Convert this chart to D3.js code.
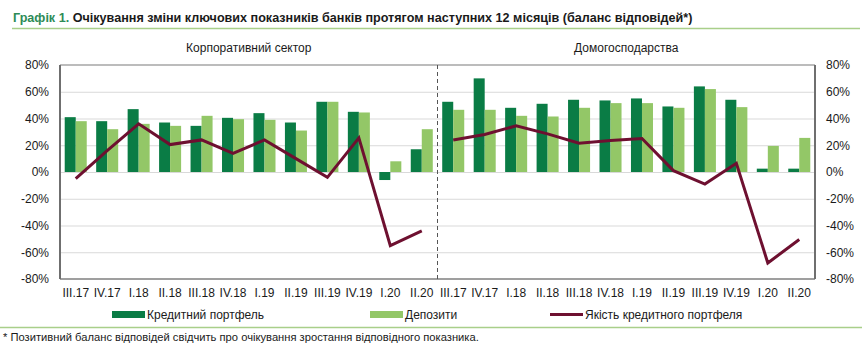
<!DOCTYPE html>
<html>
<head>
<meta charset="utf-8">
<script src="https://cdn.jsdelivr.net/npm/d3@7"></script>
<style>
  html, body { margin: 0; padding: 0; background: #fff; }
  svg { display: block; font-family: "Liberation Sans", Arial, sans-serif; }
</style>
</head>
<body>
<svg id="chart" width="868" height="345"></svg>
<script>
// Quarters shown on each panel
const quarters = ["III.17", "IV.17", "I.18", "II.18", "III.18", "IV.18", "I.19", "II.19", "III.19", "IV.19", "I.20", "II.20"];

// Corporate sector: balance of responses, %
const corpLoans    = [41, 38, 47, 37, 34.5, 40.5, 44, 37, 52.5, 45, -6, 17];
const corpDeposits = [38, 32, 36, 34.5, 42, 39.5, 39, 31, 52.5, 44.5, 8, 32];
const corpQuality  = [-5, 16, 36, 20.5, 24, 14, 24, 10, -4, 25.5, -55, -44];

// Households: balance of responses, %
const hhLoans    = [52.5, 70, 48, 51, 54, 53.5, 55, 49, 64, 54, 2.5, 2.5];
const hhDeposits = [46.5, 46.5, 42, 41.5, 48, 51.5, 51.5, 48, 62, 48.5, 19.5, 25.5];
const hhQuality  = [24, 28, 34.5, 28.5, 21.5, 23.5, 25, 1, -9, 6.5, -68, -50.5];

const yTicks = [-80, -60, -40, -20, 0, 20, 40, 60, 80];

const panels = [
  { title: "Корпоративний сектор", loans: corpLoans, deposits: corpDeposits, quality: corpQuality },
  { title: "Домогосподарства", loans: hhLoans, deposits: hhDeposits, quality: hhQuality }
];

const C_LOANS = "#0a7c45";
const C_DEP = "#93c767";
const C_LINE = "#6e1030";
const C_FRAME = "#7f7f7f";
const C_GRID = "#d9d9d9";

const svg = d3.select("#chart");

// Header
const title = svg.append("text").attr("x", 13).attr("y", 22)
  .attr("font-size", 12.6).attr("font-weight", "bold");
title.append("tspan").attr("fill", "#2e8b57").text("Графік 1. ");
title.append("tspan").attr("fill", "#1a1a1a")
  .text("Очікування зміни ключових показників банків протягом наступних 12 місяців (баланс відповідей*)");
svg.append("line").attr("x1", 12).attr("x2", 860).attr("y1", 28.5).attr("y2", 28.5)
  .attr("stroke", "#a9cf8a").attr("stroke-width", 1.5);

// Plot geometry
const plotL = 60, plotR = 815, plotT = 65, plotB = 279;
const plotMid = (plotL + plotR) / 2;

const y = d3.scaleLinear().domain([-80, 80]).range([plotB, plotT]);

// Gridlines
svg.append("g").selectAll("line").data(yTicks.filter(t => t !== 80 && t !== -80)).join("line")
  .attr("x1", plotL).attr("x2", plotR)
  .attr("y1", d => y(d) + 0.5).attr("y2", d => y(d) + 0.5)
  .attr("stroke", C_GRID).attr("stroke-width", 1);

// Panels
panels.forEach((p, i) => {
  const x0 = i === 0 ? plotL : plotMid;
  const x1 = i === 0 ? plotMid : plotR;
  const x = d3.scaleBand().domain(quarters).range([x0, x1]).paddingInner(0.3).paddingOuter(0.15);
  const half = x.bandwidth() / 2;

  const g = svg.append("g");

  g.selectAll("rect.loan").data(quarters).join("rect").attr("class", "loan")
    .attr("x", d => x(d))
    .attr("width", half)
    .attr("y", (d, k) => Math.min(y(p.loans[k]), y(0)))
    .attr("height", (d, k) => Math.abs(y(p.loans[k]) - y(0)))
    .attr("fill", C_LOANS);

  g.selectAll("rect.dep").data(quarters).join("rect").attr("class", "dep")
    .attr("x", d => x(d) + half)
    .attr("width", half)
    .attr("y", (d, k) => Math.min(y(p.deposits[k]), y(0)))
    .attr("height", (d, k) => Math.abs(y(p.deposits[k]) - y(0)))
    .attr("fill", C_DEP);

  const line = d3.line()
    .x((d, k) => x(quarters[k]) + half)
    .y(d => y(d));
  g.append("path").datum(p.quality)
    .attr("d", line).attr("fill", "none")
    .attr("stroke", C_LINE).attr("stroke-width", 3).attr("stroke-linejoin", "miter");

  // Category labels
  const xAxis = d3.axisBottom(x).tickSize(0).tickPadding(9);
  const ax = svg.append("g").attr("transform", `translate(0,${plotB})`).call(xAxis);
  ax.select(".domain").remove();
  ax.selectAll("text").attr("font-size", 12).attr("fill", "#1a1a1a")
    .attr("font-family", "'Liberation Sans', Arial, sans-serif");

  svg.append("text").attr("x", (x0 + x1) / 2).attr("y", 52)
    .attr("text-anchor", "middle").attr("font-size", 12).attr("fill", "#1a1a1a")
    .text(p.title);
});

// Frame
svg.append("line").attr("x1", plotL).attr("x2", plotR).attr("y1", plotT).attr("y2", plotT)
  .attr("stroke", "#a6a6a6").attr("stroke-width", 1.5);
svg.append("line").attr("x1", plotL).attr("x2", plotR).attr("y1", plotB).attr("y2", plotB)
  .attr("stroke", C_FRAME).attr("stroke-width", 1.5);
svg.append("line").attr("x1", plotL).attr("x2", plotL).attr("y1", plotT).attr("y2", plotB)
  .attr("stroke", "#6f6f6f").attr("stroke-width", 2);
svg.append("line").attr("x1", plotR).attr("x2", plotR).attr("y1", plotT).attr("y2", plotB)
  .attr("stroke", "#6f6f6f").attr("stroke-width", 2);
svg.append("line").attr("x1", plotMid).attr("x2", plotMid).attr("y1", plotT).attr("y2", plotB)
  .attr("stroke", "#555").attr("stroke-width", 1).attr("stroke-dasharray", "4,3");

// Y axes
const fmt = d => d + "%";
const yl = svg.append("g").attr("transform", `translate(${plotL},0)`)
  .call(d3.axisLeft(y).tickValues(yTicks).tickFormat(fmt).tickSize(0).tickPadding(11));
const yr = svg.append("g").attr("transform", `translate(${plotR},0)`)
  .call(d3.axisRight(y).tickValues(yTicks).tickFormat(fmt).tickSize(0).tickPadding(11));
[yl, yr].forEach(a => {
  a.select(".domain").remove();
  a.selectAll("text").attr("font-size", 12).attr("fill", "#1a1a1a")
    .attr("font-family", "'Liberation Sans', Arial, sans-serif");
});

// Legend
const legendItems = [
  { label: "Кредитний портфель", color: C_LOANS, type: "bar", x: 112 },
  { label: "Депозити", color: C_DEP, type: "bar", x: 370 },
  { label: "Якість кредитного портфеля", color: C_LINE, type: "line", x: 550 }
];
const lg = svg.append("g");
legendItems.forEach(it => {
  if (it.type === "bar") {
    lg.append("rect").attr("x", it.x).attr("y", 311).attr("width", 33).attr("height", 7).attr("fill", it.color);
  } else {
    lg.append("line").attr("x1", it.x).attr("x2", it.x + 33).attr("y1", 314.5).attr("y2", 314.5)
      .attr("stroke", it.color).attr("stroke-width", 3);
  }
  lg.append("text").attr("x", it.x + 35).attr("y", 319)
    .attr("font-size", 12).attr("fill", "#1a1a1a")
    .attr("font-family", "'Liberation Sans Narrow', 'Liberation Sans', Arial, sans-serif")
    .text(it.label);
});

// Footnote
svg.append("line").attr("x1", 0).attr("x2", 862).attr("y1", 327.5).attr("y2", 327.5)
  .attr("stroke", "#a9cf8a").attr("stroke-width", 1.5);
svg.append("text").attr("x", 3).attr("y", 341).attr("font-size", 11.2).attr("fill", "#1a1a1a")
  .text("* Позитивний баланс відповідей свідчить про очікування зростання відповідного показника.");
</script>
</body>
</html>
